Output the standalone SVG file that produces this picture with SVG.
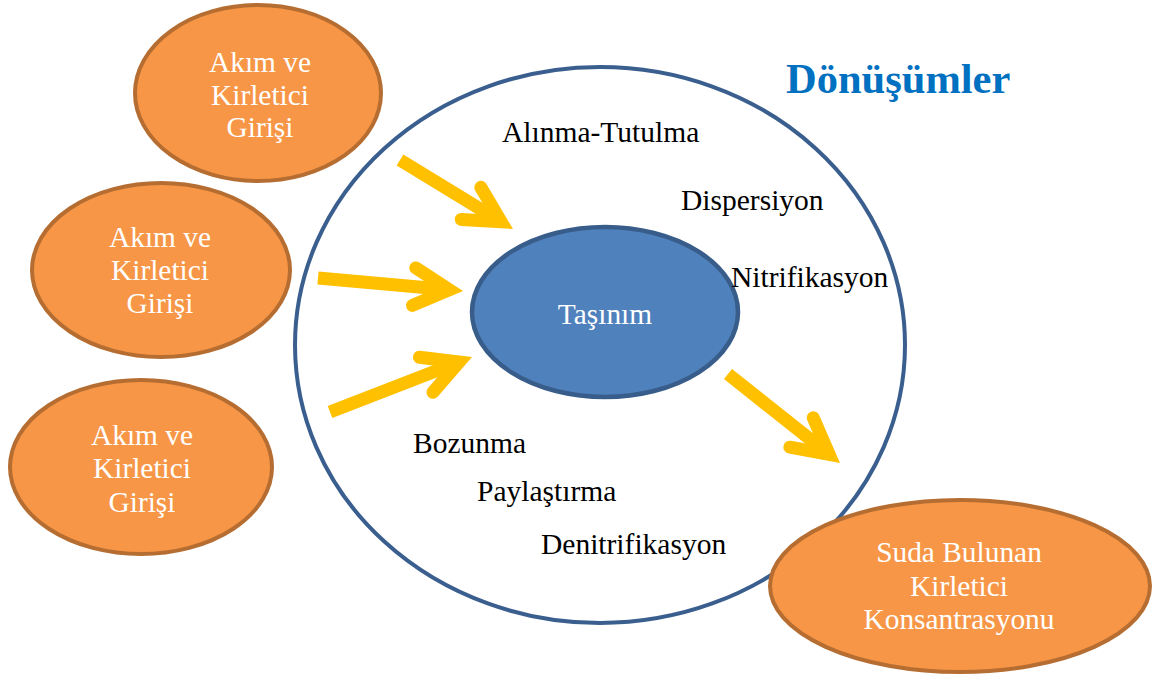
<svg xmlns="http://www.w3.org/2000/svg" width="1155" height="677" viewBox="0 0 1155 677">
  <style>
    .src { fill: #F79646; stroke: #B66D31; stroke-width: 4; }
    .core { fill: #4F81BD; stroke: #385D8A; stroke-width: 4.5; }
    .ring { fill: #FFFFFF; stroke: #3A5F8F; stroke-width: 4; }
    .wt { font-family: "Liberation Serif", "Times New Roman", serif; font-size: 29.4px; fill: #FFFFFF; text-anchor: middle; }
    .lbl { font-family: "Liberation Serif", "Times New Roman", serif; font-size: 29.5px; fill: #000000; }
    .title { font-family: "Liberation Serif", "Times New Roman", serif; font-size: 42.5px; font-weight: bold; fill: #0070C0; }
    .shaft { fill: none; stroke: #FFC000; stroke-width: 13; stroke-linecap: butt; marker-end: url(#head); }
  </style>
  <defs>
    <marker id="head" markerUnits="userSpaceOnUse" orient="auto" refX="0" refY="0" markerWidth="1" markerHeight="1" overflow="visible">
      <polyline points="-35.3,-18.8 0,0 -35.3,18.8" fill="none" stroke="#FFC000" stroke-width="13" stroke-linecap="round" stroke-linejoin="miter" stroke-miterlimit="4"/>
    </marker>
  </defs>

  <!-- transformation field -->
  <g id="field">
    <ellipse class="ring" cx="600" cy="345" rx="305" ry="278"/>
  </g>

  <!-- inputs -->
  <g id="input1">
    <ellipse class="src" cx="258" cy="93" rx="123" ry="88"/>
    <text class="wt" x="260" y="72">Akım ve</text>
    <text class="wt" x="260" y="105">Kirletici</text>
    <text class="wt" x="260" y="137">Girişi</text>
  </g>
  <g id="input2">
    <ellipse class="src" cx="161" cy="270" rx="129" ry="87"/>
    <text class="wt" x="160" y="247">Akım ve</text>
    <text class="wt" x="160" y="280">Kirletici</text>
    <text class="wt" x="160" y="313">Girişi</text>
  </g>
  <g id="input3">
    <ellipse class="src" cx="141" cy="467" rx="131" ry="87"/>
    <text class="wt" x="142" y="445">Akım ve</text>
    <text class="wt" x="142" y="478">Kirletici</text>
    <text class="wt" x="142" y="512">Girişi</text>
  </g>

  <!-- output -->
  <g id="output">
    <ellipse class="src" cx="960" cy="586" rx="190" ry="86"/>
    <text class="wt" x="959" y="562">Suda Bulunan</text>
    <text class="wt" x="959" y="596">Kirletici</text>
    <text class="wt" x="959" y="629">Konsantrasyonu</text>
  </g>

  <!-- transport core -->
  <g id="core">
    <ellipse class="core" cx="605" cy="312" rx="133" ry="85"/>
    <text class="wt" x="605" y="324">Taşınım</text>
  </g>

  <!-- process labels -->
  <g id="processes">
    <text class="title" x="786" y="93">Dönüşümler</text>
    <text class="lbl" x="502" y="142">Alınma-Tutulma</text>
    <text class="lbl" x="681" y="210">Dispersiyon</text>
    <text class="lbl" x="731" y="287">Nitrifikasyon</text>
    <text class="lbl" x="413" y="453">Bozunma</text>
    <text class="lbl" x="477" y="501">Paylaştırma</text>
    <text class="lbl" x="541" y="554">Denitrifikasyon</text>
  </g>

  <!-- connectors -->
  <g id="connectors">
    <path class="shaft" d="M400,160 L501.2,221.8"/>
    <path class="shaft" d="M318,278 L449.3,289.8"/>
    <path class="shaft" d="M330,412 L459.1,362"/>
    <path class="shaft" d="M728,374 L829.2,454.4"/>
  </g>
</svg>
